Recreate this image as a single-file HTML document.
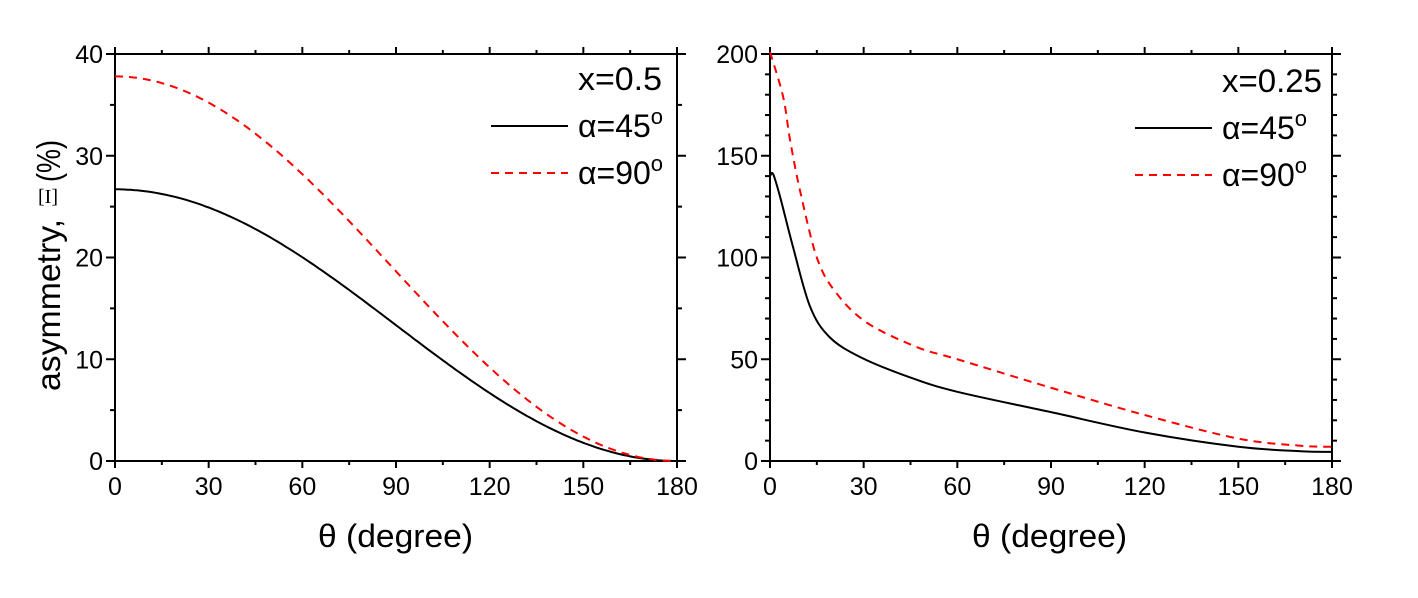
<!DOCTYPE html>
<html><head><meta charset="utf-8"><style>
html,body{margin:0;padding:0;background:#fff}
svg{display:block;font-family:"Liberation Sans",Arial,sans-serif}
</style></head><body>
<svg id="s" width="1418" height="598" viewBox="0 0 1418 598" xmlns="http://www.w3.org/2000/svg">
<g id="axes" stroke="#000" stroke-width="2" fill="none"></g>
<g id="labels" font-size="25" fill="#000"></g>
<path id="l45" fill="none" stroke="#000" stroke-width="2"/>
<path id="l90" fill="none" stroke="#f00" stroke-width="2" stroke-dasharray="8,6"/>
<path id="r45" fill="none" stroke="#000" stroke-width="2"/>
<path id="r90" fill="none" stroke="#f00" stroke-width="2" stroke-dasharray="8,6"/>
<!-- left legend -->
<text x="578" y="90" font-size="32" textLength="84" lengthAdjust="spacingAndGlyphs">x=0.5</text>
<line x1="491" y1="126" x2="568" y2="126" stroke="#000" stroke-width="2"/>
<text x="578" y="137" font-size="32">α=45<tspan font-size="22" dy="-13">o</tspan></text>
<line x1="491" y1="173" x2="568" y2="173" stroke="#f00" stroke-width="2" stroke-dasharray="8,6"/>
<text x="578" y="184" font-size="32">α=90<tspan font-size="22" dy="-13">o</tspan></text>
<!-- right legend -->
<text x="1222" y="92" font-size="32" textLength="100" lengthAdjust="spacingAndGlyphs">x=0.25</text>
<line x1="1135" y1="128" x2="1212" y2="128" stroke="#000" stroke-width="2"/>
<text x="1222" y="139" font-size="32">α=45<tspan font-size="22" dy="-13">o</tspan></text>
<line x1="1135" y1="175" x2="1212" y2="175" stroke="#f00" stroke-width="2" stroke-dasharray="8,6"/>
<text x="1222" y="186" font-size="32">α=90<tspan font-size="22" dy="-13">o</tspan></text>
<!-- axis titles -->
<text x="318" y="547" font-size="32" textLength="155" lengthAdjust="spacingAndGlyphs">θ (degree)</text>
<text x="972" y="547" font-size="32" textLength="155" lengthAdjust="spacingAndGlyphs">θ (degree)</text>
<text transform="translate(60,391) rotate(-90)" font-size="33" textLength="172" lengthAdjust="spacingAndGlyphs">asymmetry,</text>
<text x="48" y="203" font-size="20" font-family="Liberation Serif,serif" text-anchor="middle">[I]</text>
<text transform="translate(60,182) rotate(-90)" font-size="33" textLength="42" lengthAdjust="spacingAndGlyphs">(%)</text>
</svg>
<script>
const NS="http://www.w3.org/2000/svg";
const ax=document.getElementById('axes'), lb=document.getElementById('labels');
function L(x1,y1,x2,y2){const e=document.createElementNS(NS,'line');e.setAttribute('x1',x1);e.setAttribute('y1',y1);e.setAttribute('x2',x2);e.setAttribute('y2',y2);ax.appendChild(e);}
function T(x,y,s,a){const e=document.createElementNS(NS,'text');e.setAttribute('x',x);e.setAttribute('y',y);e.setAttribute('text-anchor',a);e.textContent=s;lb.appendChild(e);}
function panel(x0,x1,y0,y1,ymax,ymaj,ymin){
  const r=document.createElementNS(NS,'rect');r.setAttribute('x',x0);r.setAttribute('y',y0);r.setAttribute('width',x1-x0);r.setAttribute('height',y1-y0);ax.appendChild(r);
  for(let t=0;t<=180;t+=15){const x=x0+(x1-x0)*t/180;const m=t%30==0;const l=m?7:4;L(x,y1,x,y1+l);L(x,y0,x,y0-l);if(m)T(x,495,String(t),'middle');}
  for(let v=0;v<=ymax;v+=ymin){const y=y1-(y1-y0)*v/ymax;const m=v%ymaj==0;const l=m?9:5;L(x0,y,x0-l,y);L(x1,y,x1+l,y);if(m)T(x0-12,y+9,String(v),'end');}
}
panel(115,677,54,461,40,10,5);
panel(770,1332,54,461,200,50,10);
function lp(id,A,p){let d='';for(let t=0;t<=180;t+=1){const v=A*Math.pow(Math.cos(t*Math.PI/360)**2,p);const x=115+562*t/180,y=461-407*v/40;d+=(t?'L':'M')+x.toFixed(1)+','+y.toFixed(1);}document.getElementById(id).setAttribute('d',d);}
lp('l45',26.7,1.0);lp('l90',37.8,1.02);
function cr(id,pts){const P=pts.map(([t,v])=>[770+562*t/180,461-407*v/200]);let d='M'+P[0][0]+','+P[0][1];
 for(let i=0;i<P.length-1;i++){const p0=P[i-1]||P[i],p1=P[i],p2=P[i+1],p3=P[i+2]||P[i+1];
 d+='C'+(p1[0]+(p2[0]-p0[0])/6)+','+(p1[1]+(p2[1]-p0[1])/6)+' '+(p2[0]-(p3[0]-p1[0])/6)+','+(p2[1]-(p3[1]-p1[1])/6)+' '+p2[0]+','+p2[1];}
 document.getElementById(id).setAttribute('d',d);}
cr('r45',[[0,140],[1,141],[3.2,130],[7.4,105],[12.8,76],[19,61],[29,51],[45,41],[60,34],[90,24],[120,14],[150,7],[170,4.8],[180,4.5]]);
cr('r90',[[0,201],[4.2,179],[6.4,158],[9.6,133],[15,100],[21,83],[31,68],[47,56],[60,50],[90,36],[120,22.6],[150,11],[170,7.5],[180,7]]);
</script>
</body></html>
